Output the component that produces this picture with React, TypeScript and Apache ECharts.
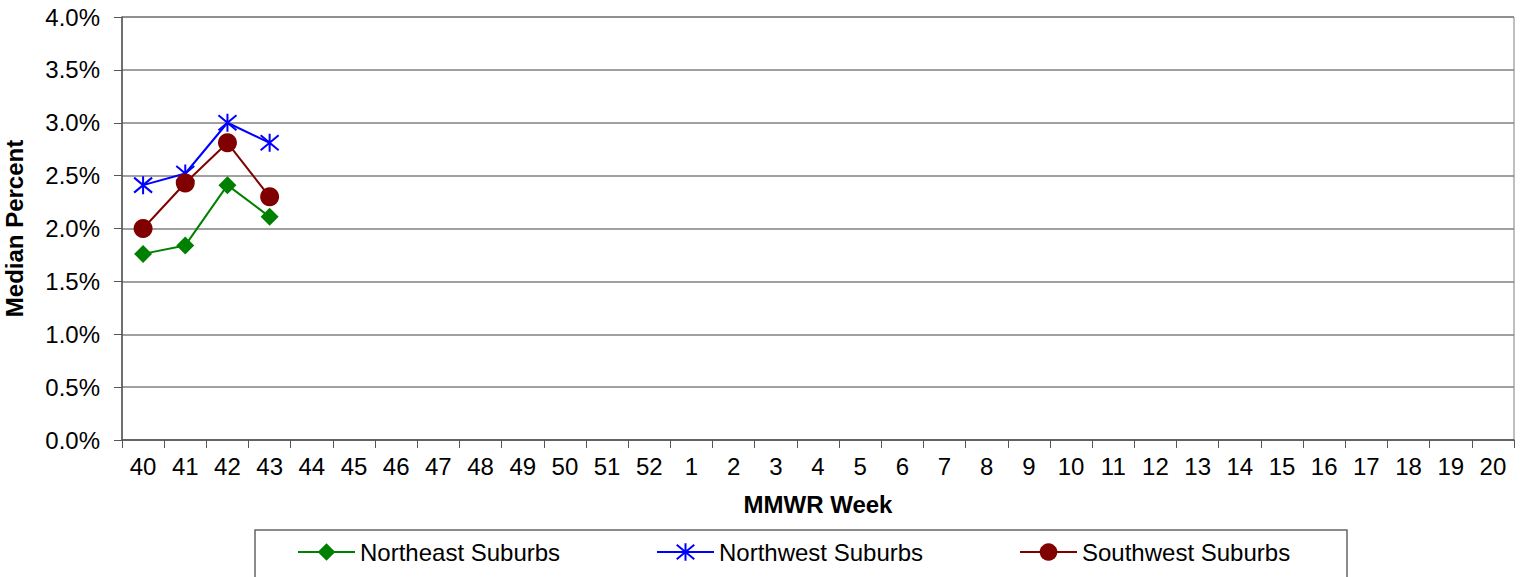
import React, { useEffect, useRef } from "react";
import * as echarts from "echarts";

const weeks = ["40","41","42","43","44","45","46","47","48","49","50","51","52","1","2","3","4","5","6","7","8","9","10","11","12","13","14","15","16","17","18","19","20"];
const northeast = [1.76, 1.84, 2.41, 2.11];
const northwest = [2.41, 2.52, 3.0, 2.81];
const southwest = [2.0, 2.43, 2.81, 2.3];
const yTicks = [0, 0.5, 1.0, 1.5, 2.0, 2.5, 3.0, 3.5, 4.0];

const FONT = "'Liberation Sans', Arial, sans-serif";
const ASTERISK = "path://M0,0L20,20M20,0L0,20M10,-2L10,22";

export default function App() {
  const ref = useRef<HTMLDivElement>(null);
  useEffect(() => {
    document.body.style.margin = "0";
    const chart = echarts.init(ref.current!, null, { renderer: "svg" });
    const legendBase = {
      top: 540,
      itemWidth: 57,
      itemHeight: 22,
      itemGap: 0,
      textStyle: { fontFamily: FONT, fontSize: 24, color: "#000", padding: [0, 0, 0, 0] },
      padding: 0,
    };
    chart.setOption({
      animation: false,
      backgroundColor: "#fff",
      textStyle: { fontFamily: FONT },
      grid: {
        left: 122,
        right: 11,
        top: 17,
        bottom: 137,
        show: true,
        borderColor: "#808080",
        borderWidth: 1,
        containLabel: false,
        outerBoundsMode: "none",
      },
      xAxis: {
        type: "category",
        data: weeks,
        boundaryGap: true,
        name: "MMWR Week",
        nameLocation: "middle",
        nameGap: 52,
        nameTextStyle: { fontFamily: FONT, fontSize: 24, fontWeight: "bold", color: "#000" },
        axisLine: { lineStyle: { color: "#555", width: 1.5 } },
        axisTick: { show: true, length: 8, alignWithLabel: false, lineStyle: { color: "#555" } },
        axisLabel: { fontFamily: FONT, fontSize: 24, color: "#000", margin: 14, interval: 0 },
        splitLine: { show: false },
      },
      yAxis: {
        type: "value",
        min: 0,
        max: 4,
        interval: 0.5,
        name: "Median Percent",
        nameLocation: "middle",
        nameGap: 96,
        nameTextStyle: { fontFamily: FONT, fontSize: 24, fontWeight: "bold", color: "#000" },
        axisLine: { show: true, lineStyle: { color: "#555", width: 1.5 } },
        axisTick: { show: true, length: 8, lineStyle: { color: "#555" } },
        axisLabel: {
          fontFamily: FONT,
          fontSize: 24,
          color: "#000",
          margin: 22,
          formatter: (v: number) => (yTicks.includes(v) ? v.toFixed(1) + "%" : ""),
        },
        splitLine: { show: true, lineStyle: { color: "#808080", width: 1.5 } },
      },
      legend: [
        { ...legendBase, left: 297, data: ["Northeast Suburbs"] },
        { ...legendBase, left: 656, data: ["Northwest Suburbs"] },
        { ...legendBase, left: 1019, data: ["Southwest Suburbs"] },
      ],
      graphic: [
        {
          type: "rect",
          shape: { x: 255, y: 530, width: 1092, height: 60 },
          style: { fill: "none", stroke: "#666", lineWidth: 1.5 },
          silent: true,
          z: -1,
        },
      ],
      series: [
        {
          name: "Northeast Suburbs",
          type: "line",
          data: northeast,
          symbol: "diamond",
          symbolSize: 18,
          lineStyle: { color: "#008000", width: 2 },
          itemStyle: { color: "#008000" },
        },
        {
          name: "Northwest Suburbs",
          type: "line",
          data: northwest,
          symbol: ASTERISK,
          symbolSize: 18,
          lineStyle: { color: "#0000ff", width: 2 },
          itemStyle: { color: "none", borderColor: "#0000ff", borderWidth: 2 },
        },
        {
          name: "Southwest Suburbs",
          type: "line",
          data: southwest,
          symbol: "circle",
          symbolSize: 19,
          lineStyle: { color: "#800000", width: 2 },
          itemStyle: { color: "#800000" },
        },
      ],
    });
    return () => chart.dispose();
  }, []);
  return <div ref={ref} style={{ width: 1525, height: 577 }} />;
}
